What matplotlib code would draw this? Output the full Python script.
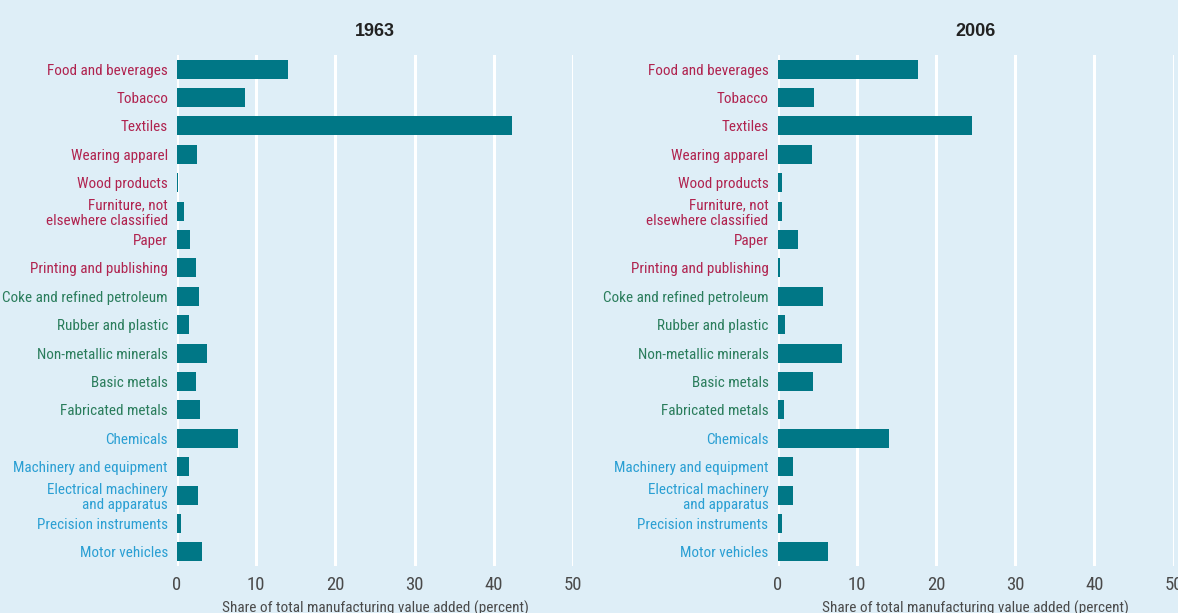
import numpy as np
import matplotlib.pyplot as plt
from matplotlib import font_manager

# narrow face for the labels, whichever is installed
installed = {f.name for f in font_manager.fontManager.ttflist}
narrow = [n for n in ["Liberation Sans Narrow", "Roboto Condensed",
                      "DejaVu Sans Condensed", "Open Sans Condensed", "Roboto"]
          if n in installed]
label_font = narrow[0] if narrow else "DejaVu Sans"
plt.rcParams['font.family'] = [label_font, 'DejaVu Sans']
size_scale = 1.0 if label_font in ("Liberation Sans Narrow", "Roboto Condensed") else 0.9

industries = [
    "Food and beverages", "Tobacco", "Textiles", "Wearing apparel",
    "Wood products", "Furniture, not\nelsewhere classified", "Paper",
    "Printing and publishing", "Coke and refined petroleum",
    "Rubber and plastic", "Non-metallic minerals", "Basic metals",
    "Fabricated metals", "Chemicals", "Machinery and equipment",
    "Electrical machinery\nand apparatus", "Precision instruments",
    "Motor vehicles",
]
# industry group: 0 = light, 1 = resource/metal, 2 = technology
groups = [0, 0, 0, 0, 0, 0, 0, 0, 1, 1, 1, 1, 1, 2, 2, 2, 2, 2]

share_1963 = [14.0, 8.6, 42.3, 2.5, 0.1, 0.9, 1.7, 2.4, 2.8,
              1.5, 3.8, 2.4, 2.9, 7.7, 1.5, 2.6, 0.5, 3.2]
share_2006 = [17.8, 4.6, 24.5, 4.4, 0.6, 0.6, 2.6, 0.3, 5.7,
              0.95, 8.1, 4.5, 0.8, 14.1, 2.0, 2.0, 0.6, 6.4]

years = ["1963", "2006"]
ticks = [0, 10, 20, 30, 40, 50]

bg = "#deeef7"
bar_color = "#007786"
group_colors = ["#b0234f", "#2a7d5c", "#2a9fd3"]

fig = plt.figure(figsize=(11.78, 6.13), dpi=100, facecolor=bg)

y = np.arange(len(industries))
panels = [(share_1963, 177 / 1178), (share_2006, 777.5 / 1178)]
ax_w = 396 / 1178
ax_bottom = 1 - 566 / 613
ax_h = (566 - 55) / 613

for (vals, left), year in zip(panels, years):
    ax = fig.add_axes([left, ax_bottom, ax_w, ax_h])
    ax.set_facecolor(bg)
    ax.barh(y, vals, height=0.67, color=bar_color, zorder=3)
    ax.set_xlim(0, 50)
    ax.set_ylim(len(industries) - 0.5, -0.5)
    ax.set_xticks(ticks)
    ax.set_xticklabels([str(t) for t in ticks], fontsize=13.5 * size_scale,
                       color="#4a4a4a")
    ax.set_yticks(y)
    ax.set_yticklabels(industries, fontsize=10.9 * size_scale, linespacing=1.15)
    for lbl, g in zip(ax.get_yticklabels(), groups):
        lbl.set_color(group_colors[g])
    ax.tick_params(axis="both", length=0)
    ax.tick_params(axis="x", pad=7)
    ax.tick_params(axis="y", pad=6.5)
    ax.grid(axis="x", color="white", linewidth=2.2, zorder=1)
    for s in ax.spines.values():
        s.set_visible(False)
    ax.set_title(year, fontsize=13, fontweight="bold", color="#222222",
                 family=['Liberation Sans', 'DejaVu Sans'], pad=14)
    ax.set_xlabel("Share of total manufacturing value added (percent)",
                  fontsize=11 * size_scale, color="#4a4a4a", labelpad=5)

fig.savefig("out.png", dpi=100, facecolor=bg)
